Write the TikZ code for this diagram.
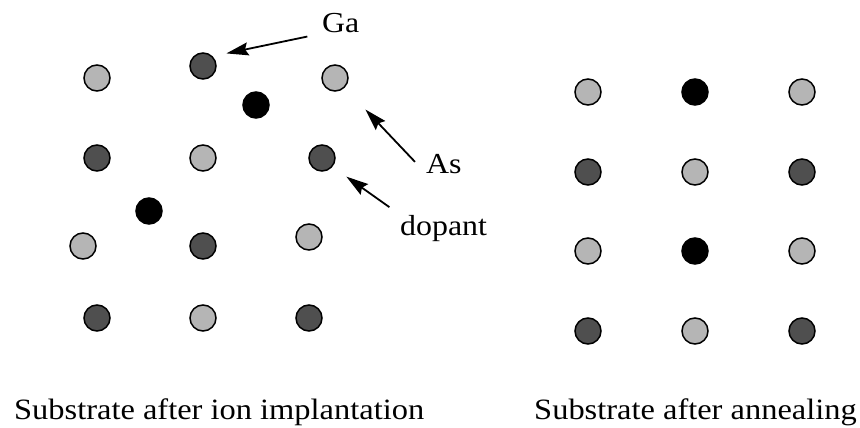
\documentclass[tikz,border=0pt]{standalone}
\usepackage{fontspec}
\setmainfont[FakeStretch=1.1]{Liberation Serif}
\usetikzlibrary{arrows.meta}

\begin{document}
\begin{tikzpicture}[
    x=1pt, y=-1pt,
    atom/.style={circle, draw, line width=1.5pt, minimum size=26pt, inner sep=0pt},
    as/.style={atom, fill=black!29},
    ga/.style={atom, fill=black!69},
    dop/.style={atom, fill=black},
    lbl/.style={inner sep=0pt, anchor=base west, font=\fontsize{29}{34}\selectfont},
    caption/.style={inner sep=0pt, font=\fontsize{29.5}{36}\selectfont},
    pointer/.style={-{Stealth[length=22pt,width=13pt,inset=3pt]}, line width=1.8pt},
]
\useasboundingbox (0,0) rectangle (860,428);

% Substrate after ion implantation
\node[as]  (l11) at (97,78) {};
\node[ga]  (l12) at (203,66) {};
\node[as]  (l13) at (335,78) {};
\node[dop] (l1d) at (256,105) {};
\node[ga]  (l21) at (97,158) {};
\node[as]  (l22) at (203,158) {};
\node[ga]  (l23) at (322,158) {};
\node[dop] (l2d) at (149,211) {};
\node[as]  (l31) at (83,246) {};
\node[ga]  (l32) at (203,246) {};
\node[as]  (l33) at (309,237) {};
\node[ga]  (l41) at (97,318) {};
\node[as]  (l42) at (203,318) {};
\node[ga]  (l43) at (309,318) {};

% Substrate after annealing
\node[as]  (r11) at (588,92) {};
\node[dop] (r12) at (695,92) {};
\node[as]  (r13) at (802,92) {};
\node[ga]  (r21) at (588,172) {};
\node[as]  (r22) at (695,172) {};
\node[ga]  (r23) at (802,172) {};
\node[as]  (r31) at (588,251) {};
\node[dop] (r32) at (695,251) {};
\node[as]  (r33) at (802,251) {};
\node[ga]  (r41) at (588,331) {};
\node[as]  (r42) at (695,331) {};
\node[ga]  (r43) at (802,331) {};

% Labels
\node[lbl] (lblGa)  at (322,33) {Ga};
\node[lbl] (lblAs)  at (426,173) {As};
\node[lbl] (lblDop) at (400,235) {dopant};

\draw[pointer, shorten <=15pt, shorten >=14pt] (lblGa.south west) -- (l12.45);
\draw[pointer, shorten <=16pt, shorten >=30pt] (lblAs.south west) -- (l13.-45);
\draw[pointer, shorten <=13pt, shorten >=17pt] (lblDop.north west) -- (l23.-40);

% Captions
\node[caption, anchor=base west] (capL) at (14,419) {Substrate after ion implantation};
\node[caption, anchor=base east] (capR) at (857,419) {Substrate after annealing};

\end{tikzpicture}
\end{document}
